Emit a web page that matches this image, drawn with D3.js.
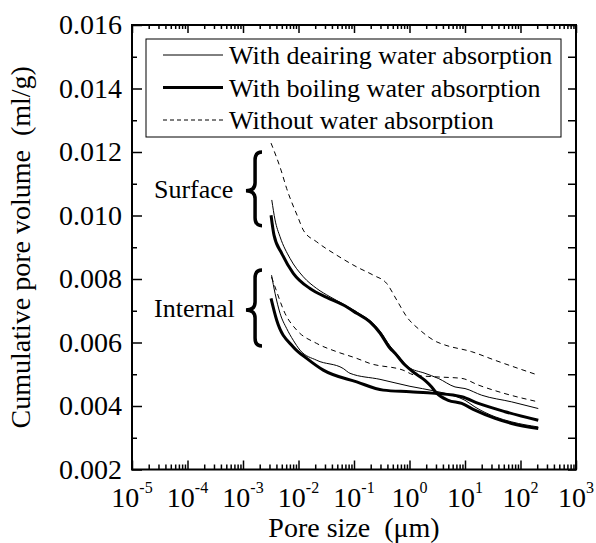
<!DOCTYPE html>
<html>
<head>
<meta charset="utf-8">
<script src="https://cdn.jsdelivr.net/npm/d3@7"></script>
<style>
body { margin: 0; background: #fff; }
text { font-family: "Liberation Serif", "Times New Roman", serif; fill: #000; white-space: pre; }
</style>
</head>
<body>
<div id="chart"></div>
<script>
// pore size (um) -> cumulative pore volume (ml/g)

// surface specimens
var surfDeairSize = [0.0033, 0.00378, 0.00465, 0.00703, 0.0122, 0.0213, 0.037, 0.0641, 0.112, 0.194, 0.294, 0.446, 0.548, 0.951, 1.9, 3.3, 6.61, 10, 20, 69.3, 209];
var surfDeairVol  = [0.01049, 0.00986, 0.00933, 0.00865, 0.00807, 0.00770, 0.00744, 0.00721, 0.00696, 0.00669, 0.00636, 0.00589, 0.00571, 0.00523, 0.00503, 0.00487, 0.00460, 0.00455, 0.00434, 0.00413, 0.00392];

var surfBoilSize = [0.0032, 0.00362, 0.00498, 0.00805, 0.0161, 0.0322, 0.0641, 0.112, 0.194, 0.294, 0.446, 0.548, 0.83, 1.256, 1.9, 2.51, 3.09, 5.0, 8.73, 15.1, 34.8, 69.3, 209];
var surfBoilVol  = [0.01001, 0.00938, 0.00881, 0.00818, 0.00770, 0.00742, 0.00718, 0.00692, 0.00665, 0.00630, 0.00582, 0.00566, 0.00529, 0.00503, 0.00481, 0.00460, 0.00440, 0.00418, 0.00408, 0.00387, 0.00361, 0.00345, 0.00329];

var surfDrySize = [0.0032, 0.00484, 0.00612, 0.0099, 0.0122, 0.0213, 0.0488, 0.112, 0.223, 0.388, 0.587, 0.891, 1.545, 3.09, 4.37, 13.2, 34.8, 209];
var surfDryVol  = [0.01228, 0.01143, 0.01085, 0.00992, 0.00954, 0.00917, 0.00875, 0.00838, 0.00812, 0.00786, 0.00734, 0.00681, 0.00639, 0.00602, 0.00592, 0.00571, 0.00544, 0.00497];

// internal specimens
var intDeairSize = [0.00327, 0.00378, 0.00465, 0.00612, 0.00805, 0.01064, 0.0213, 0.0641, 0.0847, 0.294, 1.02, 2.88, 6.61, 10, 15.1, 34.8, 69.3, 209];
var intDeairVol  = [0.00812, 0.00755, 0.00692, 0.00644, 0.00607, 0.00576, 0.00544, 0.00518, 0.00503, 0.00484, 0.00462, 0.00447, 0.00431, 0.00418, 0.00397, 0.00366, 0.00350, 0.00334];

var intBoilSize = [0.0032, 0.00405, 0.00805, 0.01406, 0.028, 0.112, 0.337, 1.02, 2.88, 8.73, 17.4, 52.6, 209];
var intBoilVol  = [0.00739, 0.00670, 0.00586, 0.00550, 0.00513, 0.00476, 0.00450, 0.00445, 0.00440, 0.00429, 0.00408, 0.00382, 0.00355];

var intDrySize = [0.00327, 0.00378, 0.00571, 0.00929, 0.0213, 0.0488, 0.112, 0.194, 0.764, 1.256, 2.88, 8.73, 17.4, 52.6, 209];
var intDryVol  = [0.00806, 0.00775, 0.00692, 0.00639, 0.00597, 0.00571, 0.00550, 0.00534, 0.00513, 0.00497, 0.00492, 0.00487, 0.00466, 0.00439, 0.00413];

var legendNames = ["With deairing water absorption", "With boiling water absorption", "Without water absorption"];
var xTickExp = [-5, -4, -3, -2, -1, 0, 1, 2, 3];
var yTickVals = [0.002, 0.004, 0.006, 0.008, 0.010, 0.012, 0.014, 0.016];

// brace annotations: label, top volume, bottom volume
var groupNames = ["Surface", "Internal"];
var braceTop = [0.0120, 0.00828];
var braceBottom = [0.00968, 0.00589];

var margin = {top: 25, right: 20, bottom: 73.5, left: 132},
    width = 596 - margin.left - margin.right,
    height = 543 - margin.top - margin.bottom;

var svg = d3.select("#chart")
    .append("svg")
    .attr("width", width + margin.left + margin.right)
    .attr("height", height + margin.top + margin.bottom)
    .append("g")
        .attr("transform", "translate(" + margin.left + "," + margin.top + ")");

var x = d3.scaleLog()
    .domain([1e-5, 1e3])
    .range([0, width]);
var y = d3.scaleLinear()
    .domain([0.002, 0.016])
    .range([height, 0]);

var majorX = xTickExp.map(function(e) { return Math.pow(10, e); });
var minorX = [];
xTickExp.slice(0, -1).forEach(function(e) {
    for (var m = 2; m <= 9; m++) minorX.push(m * Math.pow(10, e));
});
var minorY = d3.range(0.003, 0.016, 0.002);
var allY = d3.range(0.002, 0.0165, 0.001);

function tickGroup(axis, tx, ty) {
    var g = svg.append("g")
        .attr("transform", "translate(" + tx + "," + ty + ")")
        .call(axis);
    g.select(".domain").remove();
    g.selectAll("line").attr("stroke", "#000").attr("stroke-width", 1.5);
    return g;
}

// bottom
tickGroup(d3.axisBottom(x).tickValues(majorX).tickSize(-9).tickFormat(""), 0, height);
tickGroup(d3.axisBottom(x).tickValues(minorX).tickSize(-5).tickFormat(""), 0, height);
// top
tickGroup(d3.axisTop(x).tickValues(majorX).tickSize(-8).tickFormat(""), 0, 0);
tickGroup(d3.axisTop(x).tickValues(minorX).tickSize(-4).tickFormat(""), 0, 0);
// left
var yAxisG = tickGroup(d3.axisLeft(y).tickValues(yTickVals).tickSize(-10).tickPadding(10)
    .tickFormat(d3.format(".3f")), 0, 0);
yAxisG.selectAll("text").attr("font-size", 28).style("font-family", "Liberation Serif");
tickGroup(d3.axisLeft(y).tickValues(minorY).tickSize(-5).tickFormat(""), 0, 0);
// right
tickGroup(d3.axisRight(y).tickValues(allY).tickSize(-8).tickFormat(""), width, 0);

// frame
svg.append("rect")
    .attr("width", width)
    .attr("height", height)
    .attr("fill", "none")
    .attr("stroke", "#000")
    .attr("stroke-width", 2);

// x tick labels with powers of ten
var xLab = svg.append("g").selectAll("text")
    .data(xTickExp)
    .enter()
    .append("text")
    .attr("x", function(d) { return x(Math.pow(10, d)); })
    .attr("y", height + 37)
    .attr("text-anchor", "middle")
    .attr("font-size", 28);
xLab.append("tspan").text("10");
xLab.append("tspan")
    .attr("dy", -14)
    .attr("font-size", 16)
    .text(function(d) { return d; });

// axis titles
svg.append("text")
    .attr("x", width / 2)
    .attr("y", height + 67)
    .attr("text-anchor", "middle")
    .attr("font-size", 28)
    .text("Pore size  (\u03bcm)");
svg.append("text")
    .attr("transform", "translate(" + (30 - margin.left) + "," + (height / 2) + ") rotate(-90)")
    .attr("text-anchor", "middle")
    .attr("font-size", 28)
    .text("Cumulative pore volume  (ml/g)");

// curves
var styles = [
    {w: 1, dash: null},
    {w: 3, dash: null},
    {w: 1, dash: "5,4"}
];
var series = [
    {size: surfDeairSize, vol: surfDeairVol, s: 0},
    {size: surfBoilSize, vol: surfBoilVol, s: 1},
    {size: surfDrySize, vol: surfDryVol, s: 2},
    {size: intDeairSize, vol: intDeairVol, s: 0},
    {size: intBoilSize, vol: intBoilVol, s: 1},
    {size: intDrySize, vol: intDryVol, s: 2}
];

var line = d3.line()
    .x(function(d) { return x(d[0]); })
    .y(function(d) { return y(d[1]); })
    .curve(d3.curveMonotoneX);

svg.append("g").selectAll("path")
    .data(series)
    .enter()
    .append("path")
    .attr("d", function(d) { return line(d3.zip(d.size, d.vol)); })
    .attr("fill", "none")
    .attr("stroke", "#000")
    .attr("stroke-width", function(d) { return styles[d.s].w; })
    .attr("stroke-dasharray", function(d) { return styles[d.s].dash; })
    .attr("stroke-linejoin", "round");

// braces and their labels
var braceTip = x(0.00113), braceStem = x(0.00165), braceEnd = x(0.0022);
groupNames.forEach(function(name, i) {
    var yt = y(braceTop[i]), yb = y(braceBottom[i]), ym = (yt + yb) / 2 + 2;
    var p = d3.path();
    p.moveTo(braceEnd, yt);
    p.quadraticCurveTo(braceStem, yt, braceStem, yt + 8);
    p.lineTo(braceStem, ym - 8);
    p.quadraticCurveTo(braceStem, ym, braceTip, ym);
    p.quadraticCurveTo(braceStem, ym, braceStem, ym + 8);
    p.lineTo(braceStem, yb - 8);
    p.quadraticCurveTo(braceStem, yb, braceEnd, yb);
    svg.append("path")
        .attr("d", p.toString())
        .attr("fill", "none")
        .attr("stroke", "#000")
        .attr("stroke-width", 3.5);
    svg.append("text")
        .attr("x", 22)
        .attr("y", ym + 7)
        .attr("font-size", 26)
        .text(name);
});

// legend
var legend = svg.append("g").attr("transform", "translate(14,14)");
legend.append("rect")
    .attr("width", 415)
    .attr("height", 98)
    .attr("fill", "#fff")
    .attr("stroke", "#000")
    .attr("stroke-width", 1);
var rows = legend.selectAll(".row")
    .data(legendNames)
    .enter()
    .append("g")
    .attr("transform", function(d, i) { return "translate(0," + (16 + i * 32.5) + ")"; });
rows.append("line")
    .attr("x1", 17)
    .attr("x2", 77)
    .attr("stroke", "#000")
    .attr("stroke-width", function(d, i) { return styles[i].w; })
    .attr("stroke-dasharray", function(d, i) { return i === 2 ? "4,3" : null; });
rows.append("text")
    .attr("x", 83)
    .attr("y", 9)
    .attr("font-size", 26)
    .text(function(d) { return d; });
</script>
</body>
</html>
